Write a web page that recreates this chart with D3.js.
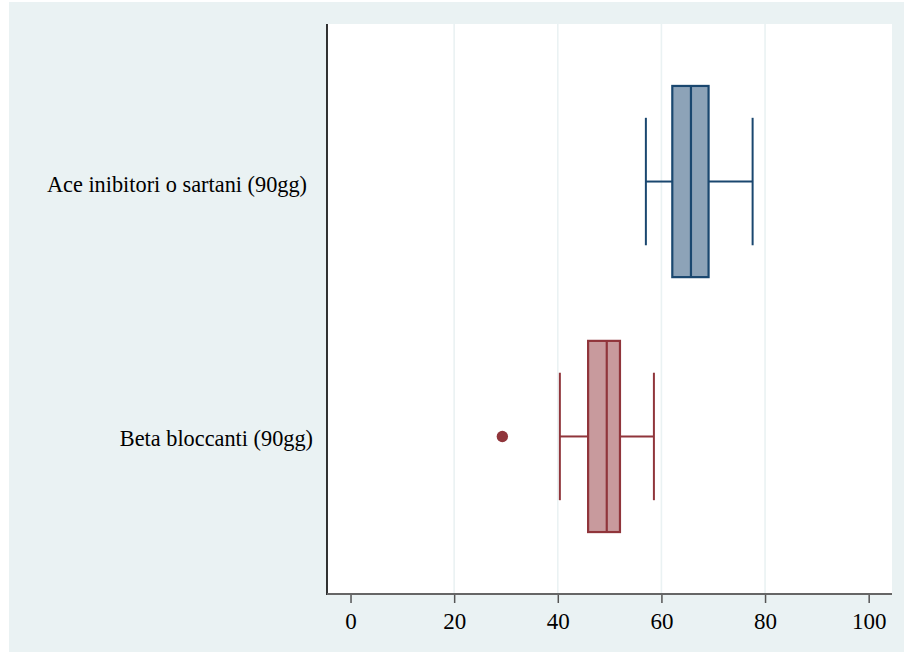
<!DOCTYPE html>
<html>
<head>
<meta charset="utf-8">
<script src="https://cdn.jsdelivr.net/npm/d3@7"></script>
<style>
  html, body { margin: 0; padding: 0; background: #ffffff; }
  svg { display: block; }
</style>
</head>
<body>
<script>
// Box plot summaries per therapy group (percent values)
const categories = ["Ace inibitori o sartani (90gg)", "Beta bloccanti (90gg)"];
const lowerWhisker = [57.0, 40.4];
const q1 = [62.1, 45.85];
const median = [65.7, 49.45];
const q3 = [69.1, 52.0];
const upperWhisker = [77.6, 58.55];
const outliers = [[], [29.3]];
const xTicks = [0, 20, 40, 60, 80, 100];
const gridTicks = [20, 40, 60, 80];

const strokeColors = ["#1a476f", "#90353b"];
const fillColors = ["#8da3b8", "#c89a9d"];

const W = 904, H = 652;
const plot = { left: 327, right: 892, top: 24, bottom: 594 };

const svg = d3.select("body").append("svg")
  .attr("width", W).attr("height", H);

// graph region background
svg.append("rect")
  .attr("x", 9).attr("y", 2).attr("width", W - 9).attr("height", H - 2)
  .attr("fill", "#eaf2f3");

// plot region
svg.append("rect")
  .attr("x", plot.left).attr("y", plot.top)
  .attr("width", plot.right - plot.left).attr("height", plot.bottom - plot.top)
  .attr("fill", "#ffffff");

const x = d3.scaleLinear().domain([-4.54, 104.5]).range([plot.left, plot.right]);
const y = d3.scalePoint().domain(categories).range([plot.top, plot.bottom]).padding(0.618);
const step = y.step();
const boxH = step * 0.75;
const capH = step * 0.5;

// vertical grid lines
svg.append("g").selectAll("line").data(gridTicks).join("line")
  .attr("x1", d => x(d)).attr("x2", d => x(d))
  .attr("y1", plot.top).attr("y2", plot.bottom)
  .attr("stroke", "#eaf2f3").attr("stroke-width", 1.6);

const rows = categories.map((c, i) => ({
  cat: c, lw: lowerWhisker[i], q1: q1[i], med: median[i], q3: q3[i],
  uw: upperWhisker[i], out: outliers[i], stroke: strokeColors[i], fill: fillColors[i]
}));

const g = svg.append("g").selectAll("g").data(rows).join("g")
  .attr("transform", d => `translate(0,${y(d.cat)})`);

// whisker stems
g.append("line")
  .attr("x1", d => x(d.lw)).attr("x2", d => x(d.q1))
  .attr("y1", 0).attr("y2", 0)
  .attr("stroke", d => d.stroke).attr("stroke-width", 2);
g.append("line")
  .attr("x1", d => x(d.q3)).attr("x2", d => x(d.uw))
  .attr("y1", 0).attr("y2", 0)
  .attr("stroke", d => d.stroke).attr("stroke-width", 2);

// whisker caps
g.append("line")
  .attr("x1", d => x(d.lw)).attr("x2", d => x(d.lw))
  .attr("y1", -capH / 2).attr("y2", capH / 2)
  .attr("stroke", d => d.stroke).attr("stroke-width", 2);
g.append("line")
  .attr("x1", d => x(d.uw)).attr("x2", d => x(d.uw))
  .attr("y1", -capH / 2).attr("y2", capH / 2)
  .attr("stroke", d => d.stroke).attr("stroke-width", 2);

// interquartile box
g.append("rect")
  .attr("x", d => x(d.q1)).attr("width", d => x(d.q3) - x(d.q1))
  .attr("y", -boxH / 2).attr("height", boxH)
  .attr("fill", d => d.fill).attr("stroke", d => d.stroke).attr("stroke-width", 2.2);

// median
g.append("line")
  .attr("x1", d => x(d.med)).attr("x2", d => x(d.med))
  .attr("y1", -boxH / 2).attr("y2", boxH / 2)
  .attr("stroke", d => d.stroke).attr("stroke-width", 2.2);

// outside values
g.selectAll("circle").data(d => d.out.map(v => ({ v, color: d.stroke }))).join("circle")
  .attr("cx", d => x(d.v)).attr("cy", 0).attr("r", 5.7)
  .attr("fill", d => d.color);

// category labels (right-aligned against the axis)
svg.append("g").selectAll("text").data(categories).join("text")
  .attr("x", (d, i) => plot.left - (i === 0 ? 20 : 14))
  .attr("y", d => y(d) + 10)
  .attr("text-anchor", "end")
  .attr("font-family", "'Liberation Serif', 'Times New Roman', serif")
  .attr("font-size", 22.3).attr("fill", "#000")
  .text(d => d);

// left axis line
svg.append("line")
  .attr("x1", plot.left).attr("x2", plot.left)
  .attr("y1", plot.top).attr("y2", plot.bottom + 1)
  .attr("stroke", "#000").attr("stroke-width", 1.6);

// bottom axis
const xAxis = d3.axisBottom(x).tickValues(xTicks).tickSize(9).tickPadding(10)
  .tickFormat(d3.format("d"));
const ax = svg.append("g").attr("transform", `translate(0,${plot.bottom})`).call(xAxis);
ax.select(".domain").remove();
ax.append("line")
  .attr("x1", plot.left).attr("x2", plot.right)
  .attr("y1", 0).attr("y2", 0)
  .attr("stroke", "#666").attr("stroke-width", 2);
ax.selectAll(".tick line").attr("stroke", "#555").attr("stroke-width", 1.5);
ax.selectAll(".tick text")
  .attr("font-family", "'Liberation Serif', 'Times New Roman', serif")
  .attr("font-size", 23).attr("fill", "#000");
</script>
</body>
</html>
